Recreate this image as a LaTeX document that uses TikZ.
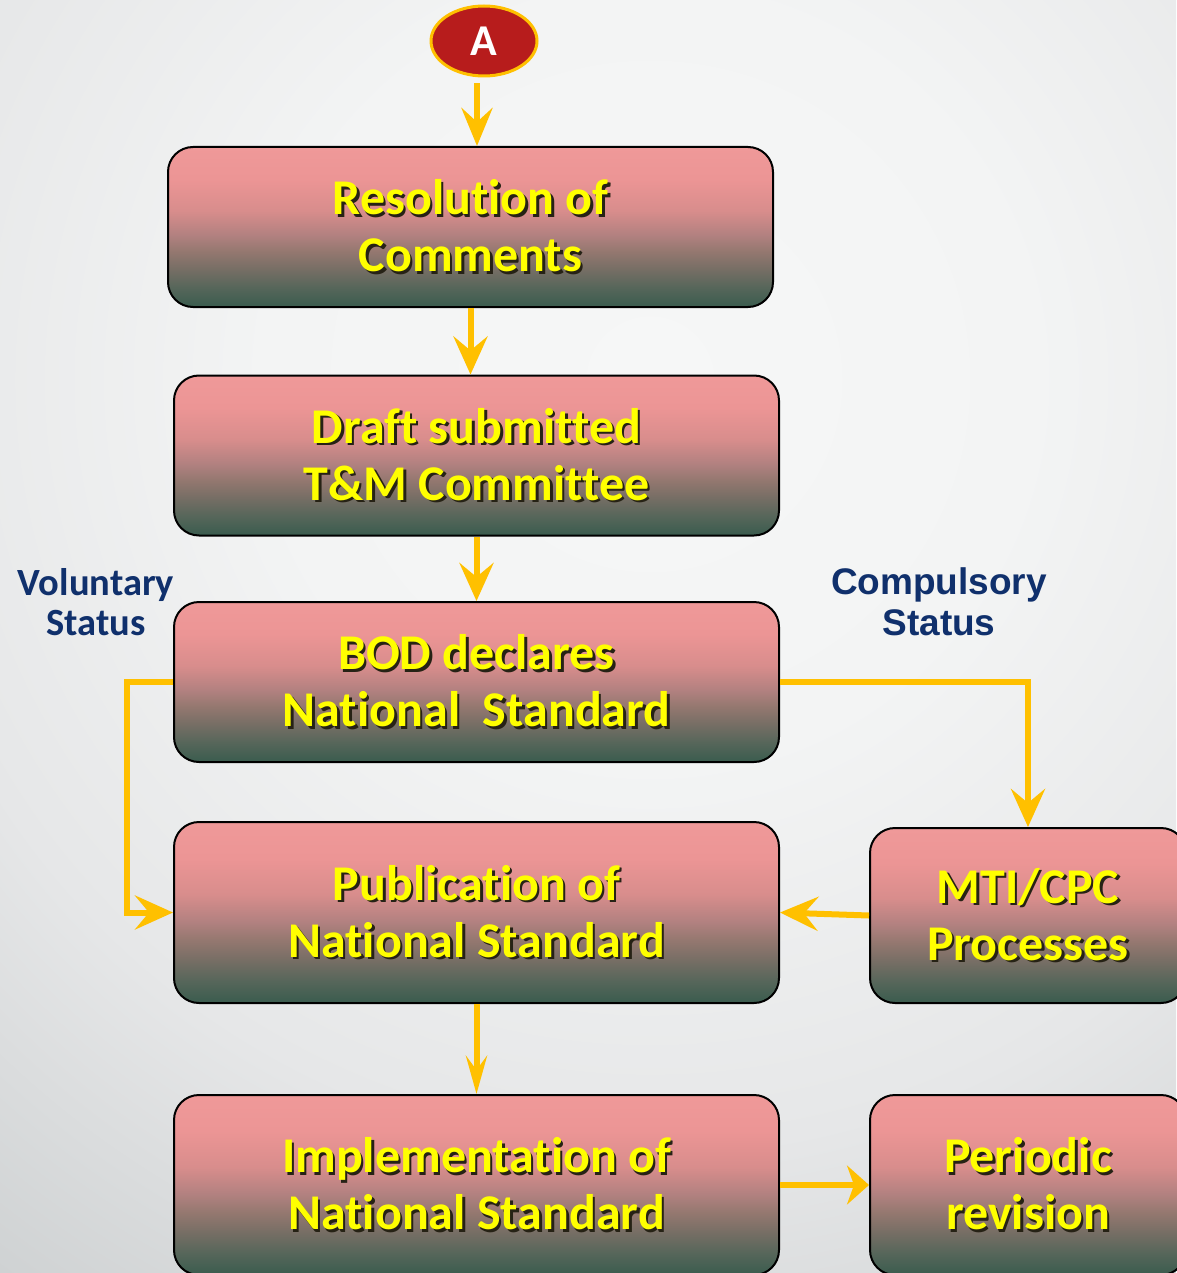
\documentclass[tikz,border=0pt]{standalone}
\usepackage{fontspec}
\setmainfont{Carlito}[RawFeature={-liga;-clig;-calt;-dlig}]
\newfontfamily\arialfont{Liberation Sans}
\usetikzlibrary{arrows.meta,positioning,shapes.geometric}

\definecolor{flowgold}{HTML}{FFC000}
\definecolor{navyblue}{HTML}{10306C}
\definecolor{ovalred}{HTML}{B71C1C}
\definecolor{txtyellow}{HTML}{FFFF00}
\definecolor{shadowgray}{HTML}{262215}
\definecolor{bgA}{HTML}{F6F7F7}
\definecolor{bgB}{HTML}{F3F4F4}
\definecolor{bgC}{HTML}{E6E7E8}
\definecolor{bgD}{HTML}{CFD2D3}
\definecolor{bgE}{HTML}{C4C7C8}
\definecolor{bxA}{HTML}{EF9999}
\definecolor{bxB}{HTML}{EC9595}
\definecolor{bxC}{HTML}{D88D8C}
\definecolor{bxD}{HTML}{B28180}
\definecolor{bxE}{HTML}{957870}
\definecolor{bxF}{HTML}{7A6F66}
\definecolor{bxG}{HTML}{56665A}
\definecolor{bxH}{HTML}{3A5C4E}

\pgfdeclareradialshading{bgshade}{\pgfpoint{0bp}{0bp}}{color(0bp)=(bgA); color(8bp)=(bgB); color(16bp)=(bgC); color(23bp)=(bgD); color(27bp)=(bgE); color(50bp)=(bgE)}
\pgfdeclareverticalshading{boxshade}{100bp}{color(0bp)=(bxH); color(25bp)=(bxH); color(31bp)=(bxG); color(37.5bp)=(bxF); color(42.5bp)=(bxE); color(47.5bp)=(bxD); color(55bp)=(bxC); color(65bp)=(bxB); color(75bp)=(bxA); color(100bp)=(bxA)}

\newcommand{\shtxt}[1]{\makebox[0pt][l]{\hspace*{2.5pt}\raisebox{-2.5pt}{\color{shadowgray}#1}}#1}

\begin{document}
\begin{tikzpicture}[x=1pt,y=-1pt,
	stepbox/.style={draw=black,line width=2pt,rounded corners=25pt,shade,shading=boxshade,
		minimum width=605pt,minimum height=160pt,inner sep=0pt,align=center,text=txtyellow,
		font=\bfseries\fontsize{50}{57}\selectfont},
	startoval/.style={ellipse,draw=flowgold,line width=3pt,fill=ovalred,text=white,
		minimum width=106pt,minimum height=70pt,inner sep=0pt,font=\bfseries\fontsize{44}{44}\selectfont},
	statuslab/.style={align=center,text=navyblue,inner sep=0pt},
	flow/.style={draw=flowgold,line width=6pt,-{Stealth[length=38pt,width=34pt,inset=14pt]}}]
	\useasboundingbox (0,0) rectangle (1176,1273);
	\begin{scope}
		\clip (0,0) rectangle (1176,1273);
		\shade[shading=bgshade] (-550,-820) rectangle (1850,1580);
	\end{scope}
	\node[startoval] (A) at (484,41) {A};
	\node[stepbox] (res) at (470.5,227) {\shtxt{Resolution of}\\\shtxt{Comments}};
	\node[stepbox] (draft) at (476.5,455.5) {\shtxt{Draft submitted}\\\shtxt{T\&M Committee}};
	\node[stepbox] (bod) at (476.5,682) {\shtxt{BOD declares}\\\shtxt{National\ \ Standard}};
	\node[stepbox,minimum height=181pt] (pub) at (476.5,912.5) {\shtxt{Publication of}\\\shtxt{National Standard}};
	\node[stepbox,minimum width=316pt,minimum height=175pt] (mti) at (1028,915.5) {\shtxt{MTI/CPC}\\\shtxt{Processes}};
	\node[stepbox,minimum height=180pt] (impl) at (476.5,1185) {\shtxt{Implementation of}\\\shtxt{National Standard}};
	\node[stepbox,minimum width=316pt,minimum height=180pt] (per) at (1028,1185) {\shtxt{Periodic}\\\shtxt{revision}};
	\node[statuslab,font=\bfseries\fontsize{38.5}{40}\selectfont] (vol) at (96,602) {Voluntary\\Status};
	\node[statuslab,font=\arialfont\bfseries\fontsize{37}{41}\selectfont] (comp) at (939,602) {Compulsory\\Status};
	\draw[flow,-{Stealth[length=38pt,width=31pt,inset=14pt]}] ([xshift=-7pt,yshift=-6pt]A.south) -- ([xshift=6.5pt]res.north);
	\draw[flow] (res.south) -- (res.south |- draft.north);
	\draw[flow] (draft.south) -- (bod.north);
	\draw[flow] (bod.west) -- ++(-46,0) |- (pub.west);
	\draw[flow] (bod.east) -| (mti.north);
	\draw[flow] (mti.west) -- (pub.east);
	\draw[flow,-{Stealth[length=38pt,width=21pt,inset=14pt]}] (pub.south) -- (impl.north);
	\draw[flow,-{Stealth[length=22pt,width=39pt,inset=7pt]}] (impl.east) -- (per.west);
\end{tikzpicture}
\end{document}
